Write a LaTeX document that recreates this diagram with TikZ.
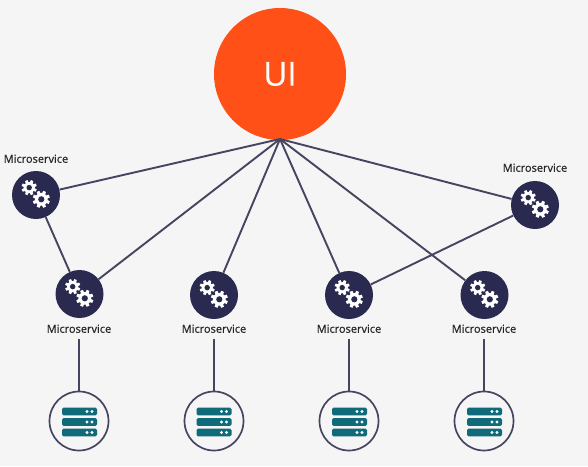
\documentclass[tikz,border=0pt]{standalone}
\usepackage{fontspec}
\setmainfont{Open Sans}
\newfontfamily\labelfont[FakeBold=0.55]{Open Sans}
\newfontfamily\uifont[FakeBold=0.5]{Open Sans}
\definecolor{bgc}{HTML}{F5F5F5}
\definecolor{navy}{HTML}{2A2A50}
\definecolor{orangeui}{HTML}{FF5117}
\definecolor{tealsrv}{HTML}{0F6A7A}
\definecolor{linec}{HTML}{45455F}
\tikzset{
  uinode/.style={circle,fill=orangeui,minimum size=132pt,inner sep=0pt,text=white,font=\uifont\fontsize{33}{33}\selectfont},
  msnode/.style={circle,fill=navy,minimum size=48pt,inner sep=0pt},
  dbnode/.style={circle,draw=linec,line width=1.7pt,fill=bgc,minimum size=59pt,inner sep=0pt},
  mslabel/.style={font=\labelfont\fontsize{11}{11}\selectfont,text=black!85,inner sep=0pt,text height=7.5pt,text depth=0pt,outer sep=0pt},
  link/.style={draw=linec,line width=1.9pt},
  srvbar/.style={fill=tealsrv,rounded corners=1.5pt,draw=none},
  srvdot/.style={fill=white,draw=none}
}
\newcommand{\geargl}[3]{% centre x, y, radius
  \fill[white,shift={(#1,#2)}] (0,0) circle[radius=0.74*#3];
  \foreach \a in {0,45,...,315}{
    \fill[white,shift={(#1,#2)},rotate=\a+22.5]
      (-0.2*#3,0.6*#3) -- (-0.17*#3,#3) -- (0.17*#3,#3) -- (0.2*#3,0.6*#3) -- cycle;
  }
  \fill[navy] (#1,#2) circle[radius=0.36*#3];
}
\newcommand{\gearpair}[1]{%
  \begin{scope}[shift={(#1)}]
    \geargl{-6.8}{-7.4}{7.6}
    \geargl{5.3}{4.3}{8.6}
  \end{scope}
}
\newcommand{\srvicon}[1]{%
  \begin{scope}[shift={(#1)}]
    \foreach \dy in {-10.5,0,10.5}{
      \fill[srvbar] (-17.5,\dy-3.8) rectangle (17.5,\dy+3.8);
      \fill[srvdot] (7.5,\dy) circle[radius=1.7];
      \fill[srvdot] (12.5,\dy) circle[radius=1.7];
    }
  \end{scope}
}
\begin{document}
\begin{tikzpicture}[x=1pt,y=-1pt]
\useasboundingbox (0,0) rectangle (588,466);
\fill[bgc] (0,0) rectangle (588,466);
% nodes
\coordinate (hub) at (280,139);
\coordinate (pm1) at (36,195);
\coordinate (pm2) at (79.5,294);
\coordinate (pm3) at (214,295);
\coordinate (pm4) at (349,295);
\coordinate (pm5) at (484.5,295);
\coordinate (pm6) at (535,205);
\node[uinode] (ui) at (280,74) {UI};
\node[msnode] (m1) at (pm1) {};
\node[msnode] (m2) at (pm2) {};
\node[msnode] (m3) at (pm3) {};
\node[msnode] (m4) at (pm4) {};
\node[msnode] (m5) at (pm5) {};
\node[msnode] (m6) at (pm6) {};
\node[dbnode] (d2) at (79,421) {};
\node[dbnode] (d3) at (214,421) {};
\node[dbnode] (d4) at (349,421) {};
\node[dbnode] (d5) at (484,421) {};
\node[mslabel] (l1) at (36,159) {Microservice};
\node[mslabel] (l2) at (79,329) {Microservice};
\node[mslabel] (l3) at (214,329) {Microservice};
\node[mslabel] (l4) at (349,329) {Microservice};
\node[mslabel] (l5) at (484,329) {Microservice};
\node[mslabel] (l6) at (535,168) {Microservice};
% connectors
\draw[link] (hub) -- (m1);
\draw[link] (hub) -- (m2);
\draw[link] (hub) -- (m3);
\draw[link] (hub) -- (m4);
\draw[link] (hub) -- (m5);
\draw[link] (hub) -- (m6);
\draw[link] (m1) -- (m2);
\draw[link] (m6) -- (m4);
\draw[link,shorten <=6pt] (l2.south -| d2) -- (d2);
\draw[link,shorten <=6pt] (l3.south -| d3) -- (d3);
\draw[link,shorten <=6pt] (l4.south -| d4) -- (d4);
\draw[link,shorten <=6pt] (l5.south -| d5) -- (d5);
% icons
\gearpair{pm1}\gearpair{pm2}\gearpair{pm3}\gearpair{pm4}\gearpair{pm5}\gearpair{pm6}
\srvicon{79.5,422}\srvicon{214,422}\srvicon{349.5,422}\srvicon{484.5,422}
\end{tikzpicture}
\end{document}
